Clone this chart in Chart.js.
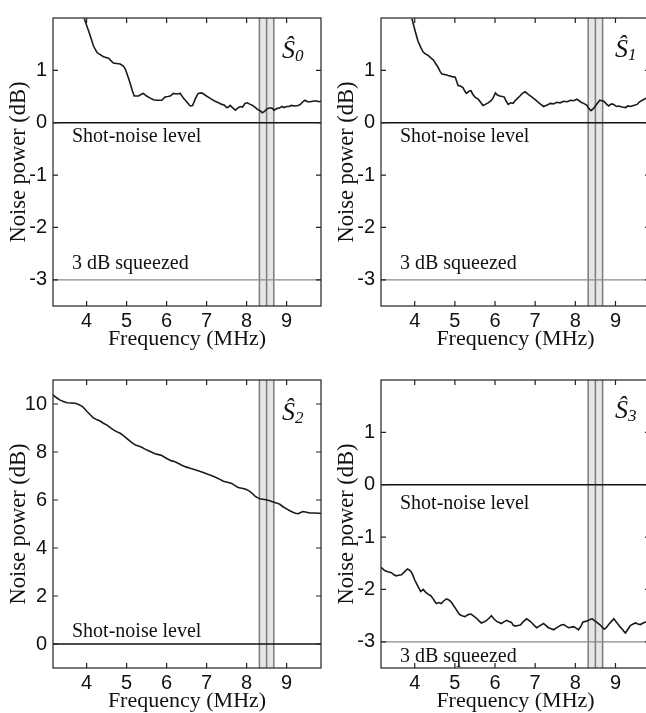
<!DOCTYPE html>
<html lang="en">

<head>
    <meta charset="UTF-8">
    <title>Noise power</title>
    <script src="https://cdn.jsdelivr.net/npm/chart.js"></script>
    <style>
        html, body { margin: 0; padding: 0; overflow: hidden; background: #fff; }
        body { position: relative; width: 646px; height: 713px; }
        canvas { position: absolute; }
    </style>
</head>

<body>
    <canvas id="graficoS0" width="323" height="356" style="left:0px;top:0px"></canvas>
    <canvas id="graficoS1" width="324" height="356" style="left:328px;top:0px"></canvas>
    <canvas id="graficoS2" width="323" height="356" style="left:0px;top:362px"></canvas>
    <canvas id="graficoS3" width="324" height="356" style="left:328px;top:362px"></canvas>
</body>

</html>
<script>
    // dados (frequencia em MHz, potencia em dB)
    const s0Freq = [3.94, 4.07, 4.17, 4.26, 4.34, 4.42, 4.55, 4.60, 4.67, 4.75, 4.84, 4.92, 4.97, 5.04, 5.09, 5.14, 5.19, 5.30, 5.36, 5.42, 5.50, 5.59, 5.67, 5.76, 5.88, 5.96, 6.03, 6.09, 6.17, 6.25, 6.34, 6.42, 6.50, 6.59, 6.65, 6.72, 6.79, 6.88, 6.96, 7.04, 7.12, 7.21, 7.30, 7.38, 7.44, 7.50, 7.55, 7.59, 7.66, 7.72, 7.78, 7.84, 7.90, 7.96, 8.02, 8.09, 8.15, 8.22, 8.28, 8.34, 8.39, 8.44, 8.50, 8.56, 8.63, 8.69, 8.75, 8.82, 8.88, 8.94, 9.00, 9.06, 9.12, 9.20, 9.29, 9.36, 9.42, 9.46, 9.52, 9.58, 9.66, 9.74, 9.80, 9.86];
    const s0Power = [1.99, 1.71, 1.47, 1.34, 1.30, 1.26, 1.23, 1.19, 1.14, 1.13, 1.12, 1.08, 1.02, 0.87, 0.75, 0.62, 0.51, 0.51, 0.54, 0.56, 0.51, 0.47, 0.44, 0.43, 0.43, 0.49, 0.50, 0.51, 0.56, 0.55, 0.56, 0.47, 0.40, 0.32, 0.33, 0.46, 0.56, 0.57, 0.53, 0.49, 0.45, 0.41, 0.38, 0.35, 0.34, 0.29, 0.30, 0.33, 0.28, 0.24, 0.28, 0.31, 0.30, 0.37, 0.38, 0.35, 0.33, 0.29, 0.25, 0.23, 0.19, 0.21, 0.26, 0.28, 0.28, 0.24, 0.27, 0.28, 0.31, 0.29, 0.31, 0.31, 0.33, 0.32, 0.33, 0.36, 0.41, 0.43, 0.40, 0.40, 0.41, 0.42, 0.40, 0.41];

    const s1Freq = [3.93, 4.00, 4.08, 4.15, 4.21, 4.27, 4.33, 4.40, 4.46, 4.52, 4.58, 4.63, 4.68, 4.75, 4.83, 4.93, 5.01, 5.05, 5.08, 5.14, 5.20, 5.25, 5.29, 5.35, 5.40, 5.45, 5.50, 5.58, 5.64, 5.70, 5.76, 5.83, 5.90, 5.95, 6.01, 6.06, 6.12, 6.18, 6.23, 6.28, 6.33, 6.39, 6.45, 6.50, 6.54, 6.62, 6.68, 6.75, 6.83, 6.92, 7.00, 7.08, 7.14, 7.21, 7.30, 7.38, 7.46, 7.54, 7.62, 7.71, 7.80, 7.88, 7.96, 8.04, 8.11, 8.17, 8.23, 8.29, 8.34, 8.39, 8.45, 8.50, 8.56, 8.61, 8.66, 8.71, 8.77, 8.83, 8.90, 8.96, 9.02, 9.08, 9.16, 9.25, 9.31, 9.37, 9.45, 9.54, 9.60, 9.67, 9.77, 9.86];
    const s1Power = [1.99, 1.78, 1.56, 1.44, 1.35, 1.31, 1.29, 1.24, 1.20, 1.13, 1.06, 0.98, 0.93, 0.92, 0.90, 0.88, 0.87, 0.78, 0.71, 0.70, 0.67, 0.60, 0.56, 0.60, 0.61, 0.54, 0.49, 0.45, 0.39, 0.33, 0.35, 0.38, 0.42, 0.47, 0.57, 0.53, 0.51, 0.50, 0.49, 0.41, 0.35, 0.38, 0.37, 0.42, 0.45, 0.51, 0.56, 0.59, 0.54, 0.49, 0.44, 0.39, 0.35, 0.31, 0.34, 0.37, 0.36, 0.39, 0.38, 0.41, 0.40, 0.43, 0.42, 0.45, 0.41, 0.38, 0.36, 0.33, 0.27, 0.23, 0.27, 0.32, 0.38, 0.43, 0.42, 0.41, 0.36, 0.32, 0.36, 0.35, 0.31, 0.32, 0.30, 0.29, 0.32, 0.31, 0.33, 0.35, 0.40, 0.43, 0.47, 0.46];

    const s2Freq = [3.16, 3.25, 3.34, 3.42, 3.51, 3.62, 3.72, 3.80, 3.89, 3.95, 4.01, 4.09, 4.17, 4.25, 4.34, 4.42, 4.51, 4.59, 4.67, 4.75, 4.84, 4.92, 5.01, 5.10, 5.22, 5.30, 5.38, 5.46, 5.55, 5.63, 5.71, 5.80, 5.88, 5.96, 6.05, 6.13, 6.21, 6.30, 6.38, 6.48, 6.59, 6.69, 6.79, 6.90, 7.00, 7.10, 7.21, 7.32, 7.42, 7.52, 7.63, 7.71, 7.79, 7.88, 7.96, 8.02, 8.08, 8.15, 8.21, 8.27, 8.33, 8.40, 8.48, 8.56, 8.65, 8.74, 8.83, 8.91, 9.00, 9.08, 9.16, 9.22, 9.29, 9.35, 9.41, 9.50, 9.58, 9.70, 9.81, 9.86];
    const s2Power = [10.38, 10.26, 10.16, 10.10, 10.05, 10.04, 10.03, 9.98, 9.90, 9.80, 9.69, 9.55, 9.42, 9.35, 9.29, 9.20, 9.12, 9.02, 8.92, 8.85, 8.78, 8.68, 8.56, 8.43, 8.29, 8.25, 8.20, 8.12, 8.05, 7.99, 7.93, 7.89, 7.85, 7.77, 7.69, 7.63, 7.59, 7.52, 7.45, 7.38, 7.32, 7.27, 7.22, 7.16, 7.09, 7.03, 6.96, 6.87, 6.78, 6.74, 6.69, 6.60, 6.52, 6.49, 6.46, 6.42, 6.36, 6.26, 6.16, 6.10, 6.05, 6.03, 6.01, 5.98, 5.93, 5.88, 5.82, 5.72, 5.63, 5.55, 5.49, 5.45, 5.43, 5.48, 5.52, 5.49, 5.46, 5.46, 5.45, 5.44];

    const s3Freq = [3.17, 3.25, 3.33, 3.42, 3.48, 3.54, 3.60, 3.67, 3.75, 3.82, 3.87, 3.92, 3.96, 4.00, 4.04, 4.08, 4.15, 4.21, 4.27, 4.33, 4.40, 4.46, 4.50, 4.54, 4.60, 4.66, 4.72, 4.79, 4.85, 4.91, 4.97, 5.04, 5.08, 5.12, 5.18, 5.25, 5.33, 5.40, 5.47, 5.54, 5.60, 5.66, 5.72, 5.79, 5.85, 5.91, 5.97, 6.04, 6.10, 6.16, 6.22, 6.29, 6.35, 6.41, 6.45, 6.50, 6.57, 6.63, 6.71, 6.79, 6.86, 6.92, 6.98, 7.04, 7.12, 7.21, 7.27, 7.33, 7.40, 7.46, 7.52, 7.58, 7.65, 7.71, 7.77, 7.83, 7.90, 7.96, 8.02, 8.08, 8.14, 8.19, 8.26, 8.33, 8.38, 8.42, 8.47, 8.52, 8.57, 8.62, 8.67, 8.72, 8.78, 8.83, 8.90, 8.96, 9.01, 9.06, 9.12, 9.17, 9.21, 9.25, 9.31, 9.37, 9.44, 9.50, 9.56, 9.62, 9.69, 9.75, 9.86];
    const s3Power = [-1.58, -1.64, -1.66, -1.68, -1.72, -1.74, -1.73, -1.72, -1.66, -1.61, -1.63, -1.67, -1.74, -1.82, -1.88, -1.94, -2.04, -2.00, -2.05, -2.09, -2.12, -2.18, -2.23, -2.27, -2.25, -2.27, -2.22, -2.18, -2.20, -2.24, -2.31, -2.39, -2.44, -2.48, -2.50, -2.52, -2.48, -2.47, -2.51, -2.55, -2.60, -2.64, -2.62, -2.59, -2.55, -2.50, -2.56, -2.61, -2.63, -2.65, -2.62, -2.59, -2.61, -2.63, -2.68, -2.70, -2.69, -2.68, -2.61, -2.56, -2.60, -2.64, -2.69, -2.73, -2.69, -2.65, -2.69, -2.73, -2.75, -2.77, -2.74, -2.71, -2.68, -2.67, -2.70, -2.73, -2.72, -2.71, -2.74, -2.77, -2.70, -2.62, -2.61, -2.59, -2.57, -2.56, -2.59, -2.62, -2.65, -2.68, -2.72, -2.76, -2.72, -2.67, -2.61, -2.56, -2.61, -2.66, -2.72, -2.76, -2.80, -2.83, -2.76, -2.69, -2.66, -2.64, -2.66, -2.67, -2.64, -2.62, -2.60];

    // faixa vertical cinza (MHz) e marcas dos eixos
    const faixaMHz = [8.32, 8.5, 8.68];
    const ticksX = [4, 5, 6, 7, 8, 9];
    const ticksYdB = [-3, -2, -1, 0, 1];
    const ticksYs2 = [0, 2, 4, 6, 8, 10];
    const limitesX = [3.16, 9.86];

    const serif = '"Liberation Serif", "Times New Roman", serif';
    const sans = '"Liberation Sans", Arial, sans-serif';

    // plugin que desenha a faixa, linhas de referencia, textos, moldura e ticks internos
    const enfeites = {
        id: 'enfeites',
        beforeDatasetsDraw(chart, args, opts) {
            const ctx = chart.ctx;
            const a = chart.chartArea;
            const x = chart.scales.x, y = chart.scales.y;
            ctx.save();

            var x0 = x.getPixelForValue(faixaMHz[0]);
            var x2 = x.getPixelForValue(faixaMHz[2]);
            ctx.fillStyle = '#e6e6e6';
            ctx.fillRect(x0, a.top, x2 - x0, a.bottom - a.top);
            ctx.strokeStyle = '#7c7c7c';
            ctx.lineWidth = 1.5;
            faixaMHz.forEach(function (f) {
                var px = x.getPixelForValue(f);
                ctx.beginPath();
                ctx.moveTo(px, a.top);
                ctx.lineTo(px, a.bottom);
                ctx.stroke();
            });

            opts.linhas.forEach(function (l) {
                var py = y.getPixelForValue(l.valor);
                ctx.strokeStyle = l.cor;
                ctx.lineWidth = l.largura;
                ctx.beginPath();
                ctx.moveTo(a.left, py);
                ctx.lineTo(a.right, py);
                ctx.stroke();
            });

            ctx.fillStyle = '#111';
            ctx.font = '20px ' + serif;
            ctx.textAlign = 'left';
            ctx.textBaseline = 'alphabetic';
            opts.textos.forEach(function (t) {
                ctx.fillText(t.texto, a.left + 19, y.getPixelForValue(t.valor) + t.dy);
            });
            ctx.restore();
        },
        afterDraw(chart, args, opts) {
            const ctx = chart.ctx;
            const a = chart.chartArea;
            const x = chart.scales.x, y = chart.scales.y;
            const tam = 5;
            ctx.save();
            ctx.strokeStyle = '#222';
            ctx.lineWidth = 1.2;
            ctx.strokeRect(a.left, a.top, a.right - a.left, a.bottom - a.top);

            ctx.beginPath();
            x.ticks.forEach(function (t) {
                var px = x.getPixelForValue(t.value);
                ctx.moveTo(px, a.bottom); ctx.lineTo(px, a.bottom - tam);
                ctx.moveTo(px, a.top); ctx.lineTo(px, a.top + tam);
            });
            y.ticks.forEach(function (t) {
                var py = y.getPixelForValue(t.value);
                ctx.moveTo(a.left, py); ctx.lineTo(a.left + tam, py);
                ctx.moveTo(a.right, py); ctx.lineTo(a.right - tam, py);
            });
            ctx.stroke();

            // rotulo S chapeu
            ctx.fillStyle = '#111';
            ctx.textAlign = 'left';
            ctx.textBaseline = 'alphabetic';
            ctx.font = 'italic 26px ' + serif;
            var sx = a.left + opts.rotuloX;
            var sy = a.top + opts.rotuloY;
            ctx.fillText('\u015C', sx, sy);
            var w = ctx.measureText('\u015C').width;
            ctx.font = 'italic 17px ' + serif;
            ctx.fillText(opts.indice, sx + w, sy + 3);
            ctx.restore();
        }
    };

    function criarGrafico(id, freq, power, yMin, yMax, ticksY, enfeitesOpts) {
        let pontos = freq.map(function (f, i) { return { x: f, y: power[i] }; });

        const config = {
            type: 'line',
            data: {
                datasets: [{
                    data: pontos,
                    borderColor: '#1a1a1a',
                    borderWidth: 1.6,
                    pointRadius: 0,
                    tension: 0,
                    fill: false
                }]
            },
            options: {
                responsive: false,
                animation: false,
                devicePixelRatio: 1,
                layout: { padding: { top: 5, right: 2, left: 0, bottom: 0 } },
                plugins: {
                    legend: { display: false },
                    tooltip: { enabled: false },
                    enfeites: enfeitesOpts
                },
                scales: {
                    x: {
                        type: 'linear',
                        min: limitesX[0],
                        max: limitesX[1],
                        afterFit: function (s) { s.height = 50; },
                        afterBuildTicks: function (s) { s.ticks = ticksX.map(function (v) { return { value: v }; }); },
                        grid: { display: false, drawTicks: false },
                        border: { display: false },
                        ticks: { color: '#111', font: { family: sans, size: 20 }, padding: 3, maxRotation: 0, autoSkip: false },
                        title: { display: true, text: 'Frequency (MHz)', color: '#111', font: { family: serif, size: 22 }, padding: { top: 0, bottom: 4 } }
                    },
                    y: {
                        min: yMin,
                        max: yMax,
                        afterFit: function (s) { s.width = 53; },
                        afterBuildTicks: function (s) { s.ticks = ticksY.map(function (v) { return { value: v }; }); },
                        grid: { display: false, drawTicks: false },
                        border: { display: false },
                        ticks: { color: '#111', font: { family: sans, size: 20 }, padding: 6, autoSkip: false },
                        title: { display: true, text: 'Noise power (dB)', color: '#111', font: { family: serif, size: 22.5 }, padding: { top: 6, bottom: 0 } }
                    }
                }
            },
            plugins: [enfeites]
        };

        return new Chart(document.getElementById(id), config);
    }

    const linhaZero = { valor: 0, cor: '#111', largura: 1.3 };
    const linhaMenos3 = { valor: -3, cor: '#8a8a8a', largura: 1.2 };

    criarGrafico('graficoS0', s0Freq, s0Power, -3.5, 2, ticksYdB, {
        linhas: [linhaZero, linhaMenos3],
        textos: [{ texto: 'Shot-noise level', valor: 0, dy: 19 }, { texto: '3 dB squeezed', valor: -3, dy: -11 }],
        rotuloX: 229, rotuloY: 40, indice: '0'
    });
    criarGrafico('graficoS1', s1Freq, s1Power, -3.5, 2, ticksYdB, {
        linhas: [linhaZero, linhaMenos3],
        textos: [{ texto: 'Shot-noise level', valor: 0, dy: 19 }, { texto: '3 dB squeezed', valor: -3, dy: -11 }],
        rotuloX: 234, rotuloY: 39, indice: '1'
    });
    criarGrafico('graficoS2', s2Freq, s2Power, -1, 11, ticksYs2, {
        linhas: [linhaZero],
        textos: [{ texto: 'Shot-noise level', valor: 0, dy: -7 }],
        rotuloX: 229, rotuloY: 40, indice: '2'
    });
    criarGrafico('graficoS3', s3Freq, s3Power, -3.5, 2, ticksYdB, {
        linhas: [linhaZero, linhaMenos3],
        textos: [{ texto: 'Shot-noise level', valor: 0, dy: 24 }, { texto: '3 dB squeezed', valor: -3, dy: 20 }],
        rotuloX: 234, rotuloY: 38, indice: '3'
    });
</script>
